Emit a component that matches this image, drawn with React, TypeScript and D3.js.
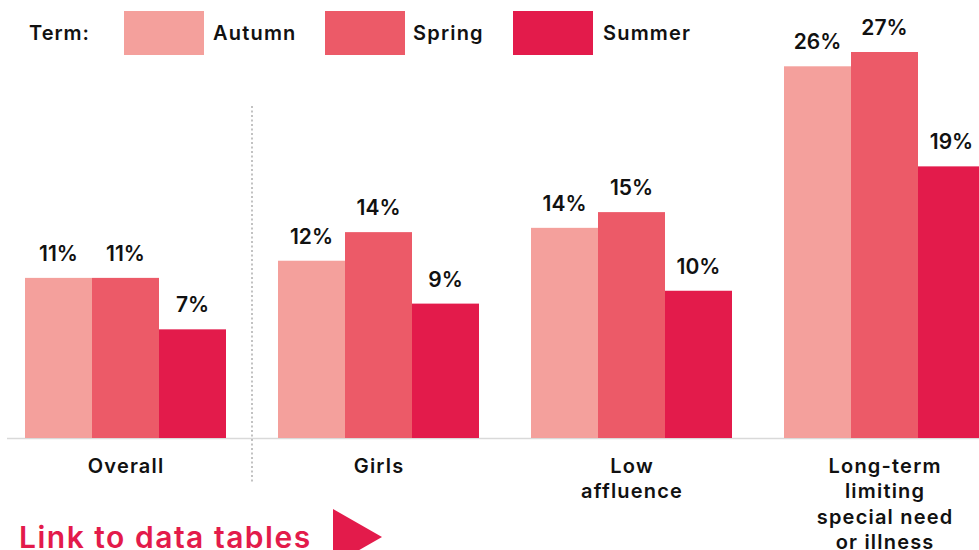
import React from "react";
import * as d3 from "d3";

const categories = ["Overall", "Girls", "Low affluence", "Long-term limiting special need or illness"];
const categoryLines = [["Overall"], ["Girls"], ["Low", "affluence"], ["Long-term", "limiting", "special need", "or illness"]];
const terms = ["Autumn", "Spring", "Summer"];
const colors = ["#F4A09C", "#EC5A68", "#E31B4B"];
const autumn = [11.2, 12.4, 14.7, 26.0];
const spring = [11.2, 14.4, 15.8, 27.0];
const summer = [7.6, 9.4, 10.3, 19.0];
const autumnLabels = ["11%", "12%", "14%", "26%"];
const springLabels = ["11%", "14%", "15%", "27%"];
const summerLabels = ["7%", "9%", "10%", "19%"];

const series = [autumn, spring, summer];
const seriesLabels = [autumnLabels, springLabels, summerLabels];

const W = 979;
const H = 550;
const FONT = "Inter, 'Open Sans', sans-serif";

export default function App() {
  const x0 = d3.scaleBand<string>().domain(categories).range([25, 985]).paddingInner(52 / 253).paddingOuter(0);
  const x1 = d3.scaleBand<string>().domain(terms).range([0, x0.bandwidth()]).padding(0);
  const y = d3.scaleLinear().domain([0, 27]).range([438, 52]);

  const sepX = ((x0(categories[0]) as number) + x0.bandwidth() + (x0(categories[1]) as number)) / 2;

  const legendItems = [
    { box: 124, text: 213 },
    { box: 325, text: 413 },
    { box: 513, text: 603 },
  ];

  return (
    <svg width={W} height={H} style={{ position: "absolute", left: 0, top: 0, display: "block" }} fontFamily={FONT}>
      <rect x={0} y={0} width={W} height={H} fill="#fff" />
      {/* legend */}
      <text x={29} y={40} fontSize={20} fontWeight={600} letterSpacing={1} fill="#111">Term:</text>
      {terms.map((t, i) => (
        <g key={t}>
          <rect x={legendItems[i].box} y={11} width={80} height={44} fill={colors[i]} />
          <text x={legendItems[i].text} y={40} fontSize={20} fontWeight={600} letterSpacing={1.2} fill="#111">{t}</text>
        </g>
      ))}
      {/* baseline */}
      <line x1={7} x2={W} y1={y(0) + 0.5} y2={y(0) + 0.5} stroke="#d9d9d9" strokeWidth={1.5} />
      {/* separator */}
      <line x1={sepX} x2={sepX} y1={106} y2={482} stroke="#9a9a9a" strokeWidth={1.2} strokeDasharray="2,2.5" />
      {/* bars */}
      {categories.map((c, ci) => (
        <g key={c} transform={`translate(${x0(c)},0)`}>
          {terms.map((t, ti) => {
            const v = series[ti][ci];
            const bx = x1(t) as number;
            return (
              <g key={t}>
                <rect x={bx} y={y(v)} width={x1.bandwidth()} height={y(0) - y(v)} fill={colors[ti]} />
                <text x={bx + x1.bandwidth() / 2} y={y(v) - 17} textAnchor="middle" fontSize={21} fontWeight={600} fill="#111">
                  {seriesLabels[ti][ci]}
                </text>
              </g>
            );
          })}
          {categoryLines[ci].map((ln, li) => (
            <text key={li} x={x0.bandwidth() / 2 + 0.6} y={473 + li * 25.3} textAnchor="middle" fontSize={20} fontWeight={600} letterSpacing={1.2} fill="#111">
              {ln}
            </text>
          ))}
        </g>
      ))}
      {/* link */}
      <text x={19} y={548} fontSize={30} fontWeight={600} letterSpacing={1.5} fill="#E31B4B">Link to data tables</text>
      <path d="M333,509 L382,537 L333,565 Z" fill="#E31B4B" />
    </svg>
  );
}
